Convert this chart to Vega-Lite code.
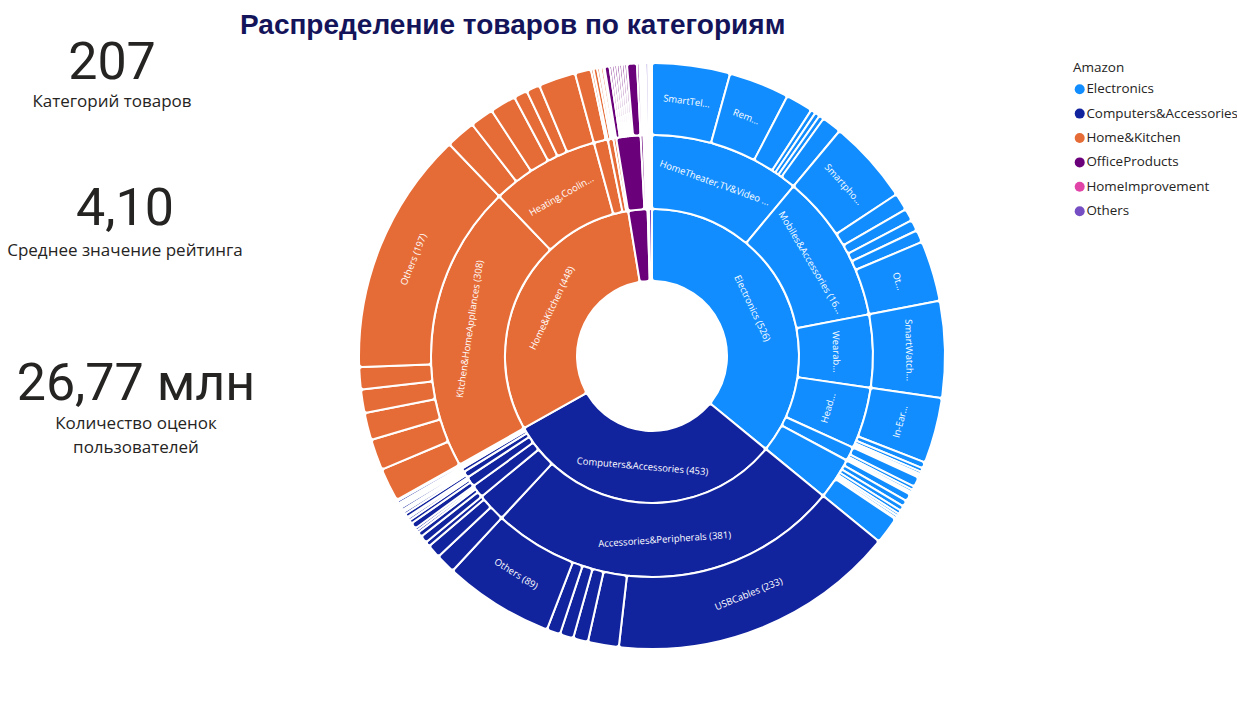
{
  "$schema": "https://vega.github.io/schema/vega-lite/v6.json",
  "padding": {"left": 0, "top": 11, "right": 0, "bottom": 16},
  "background": "white",
  "title": {"text": "Распределение товаров по категориям", "anchor": "start", "dx": 240, "dy": 9, "font": "Liberation Sans", "fontSize": 28, "fontWeight": "bold", "color": "#14145a", "offset": 6},
  "config": {"view": {"stroke": null}},
  "datasets": {
    "r1": [
      {"k":1,"top":"Electronics","name":"Electronics","n":526,"lbl":"Electronics (526)"},
      {"k":2,"top":"Computers&Accessories","name":"Computers&Accessories","n":453,"lbl":"Computers&Accessories (453)"},
      {"k":3,"top":"Home&Kitchen","name":"Home&Kitchen","n":448,"lbl":"Home&Kitchen (448)"},
      {"k":4,"top":"OfficeProducts","name":"OfficeProducts","n":31,"lbl":""},
      {"k":5,"top":"HomeImprovement","name":"HomeImprovement","n":2,"lbl":""},
      {"k":6,"top":"Others","name":"Others","n":5,"lbl":""}
    ],
    "r2": [
      {"k":1,"top":"Electronics","name":"HomeTheater,TV&Video","n":162,"lbl":"HomeTheater,TV&Video ..."},
      {"k":2,"top":"Electronics","name":"Mobiles&Accessories","n":160,"lbl":"Mobiles&Accessories (16..."},
      {"k":3,"top":"Electronics","name":"WearableTechnology","n":78,"lbl":"Wearab..."},
      {"k":4,"top":"Electronics","name":"Headphones,Earbuds&Accessories","n":66,"lbl":"Head..."},
      {"k":5,"top":"Electronics","name":"GeneralPurposeBatteries&BatteryChargers","n":15,"lbl":""},
      {"k":6,"top":"Electronics","name":"Accessories","n":45,"lbl":""},
      {"k":7,"top":"Computers&Accessories","name":"Accessories&Peripherals","n":381,"lbl":"Accessories&Peripherals (381)"},
      {"k":8,"top":"Computers&Accessories","name":"NetworkingDevices","n":31,"lbl":""},
      {"k":9,"top":"Computers&Accessories","name":"ExternalDevices&DataStorage","n":14,"lbl":""},
      {"k":10,"top":"Computers&Accessories","name":"Printers,Inks&Accessories","n":11,"lbl":""},
      {"k":11,"top":"Computers&Accessories","name":"Components","n":7,"lbl":""},
      {"k":12,"top":"Computers&Accessories","name":"Monitors","n":4,"lbl":""},
      {"k":13,"top":"Computers&Accessories","name":"Laptops","n":2,"lbl":""},
      {"k":14,"top":"Computers&Accessories","name":"Tablets","n":2,"lbl":""},
      {"k":15,"top":"Computers&Accessories","name":"Audio","n":1,"lbl":""},
      {"k":16,"top":"Home&Kitchen","name":"Kitchen&HomeAppliances","n":308,"lbl":"Kitchen&HomeAppliances (308)"},
      {"k":17,"top":"Home&Kitchen","name":"Heating,Cooling&AirQuality","n":116,"lbl":"Heating,Coolin..."},
      {"k":18,"top":"Home&Kitchen","name":"Kitchen&Dining","n":15,"lbl":""},
      {"k":19,"top":"Home&Kitchen","name":"HomeStorage&Organization","n":6,"lbl":""},
      {"k":20,"top":"Home&Kitchen","name":"CraftMaterials","n":3,"lbl":""},
      {"k":21,"top":"OfficeProducts","name":"OfficePaperProducts","n":26,"lbl":""},
      {"k":22,"top":"OfficeProducts","name":"OfficeElectronics","n":3,"lbl":""},
      {"k":23,"top":"OfficeProducts","name":"Stationery","n":2,"lbl":""},
      {"k":24,"top":"HomeImprovement","name":"Cleaning&Supplies","n":1,"lbl":""},
      {"k":25,"top":"HomeImprovement","name":"Electrical","n":1,"lbl":""},
      {"k":26,"top":"Others","name":"MusicalInstruments","n":2,"lbl":""},
      {"k":27,"top":"Others","name":"Toys&Games","n":1,"lbl":""},
      {"k":28,"top":"Others","name":"Car&Motorbike","n":1,"lbl":""},
      {"k":29,"top":"Others","name":"Health&PersonalCare","n":1,"lbl":""}
    ],
    "r3": [
      {"k":1,"top":"Electronics","name":"SmartTelevisions","n":63,"lbl":"SmartTel..."},
      {"k":2,"top":"Electronics","name":"RemoteControls","n":49,"lbl":"Rem..."},
      {"k":3,"top":"Electronics","name":"HDMICables","n":22,"lbl":""},
      {"k":4,"top":"Electronics","name":"StandardTelevisions","n":4,"lbl":""},
      {"k":5,"top":"Electronics","name":"SpeakerCables","n":4,"lbl":""},
      {"k":6,"top":"Electronics","name":"TVWallMounts","n":4,"lbl":""},
      {"k":7,"top":"Electronics","name":"StreamingClients","n":16,"lbl":""},
      {"k":8,"top":"Electronics","name":"Smartphones","n":68,"lbl":"Smartpho..."},
      {"k":9,"top":"Electronics","name":"BasicMobiles","n":14,"lbl":""},
      {"k":10,"top":"Electronics","name":"Cases&Covers","n":10,"lbl":""},
      {"k":11,"top":"Electronics","name":"ScreenProtectors","n":9,"lbl":""},
      {"k":12,"top":"Electronics","name":"Chargers","n":10,"lbl":""},
      {"k":13,"top":"Electronics","name":"Others","n":49,"lbl":"Ot..."},
      {"k":14,"top":"Electronics","name":"SmartWatches","n":78,"lbl":"SmartWatch..."},
      {"k":15,"top":"Electronics","name":"In-Ear","n":53,"lbl":"In-Ear..."},
      {"k":16,"top":"Electronics","name":"On-Ear","n":5,"lbl":""},
      {"k":17,"top":"Electronics","name":"Over-Ear","n":3,"lbl":""},
      {"k":18,"top":"Electronics","name":"EarPads","n":2,"lbl":""},
      {"k":19,"top":"Electronics","name":"HeadphoneAdapters","n":1,"lbl":""},
      {"k":20,"top":"Electronics","name":"HeadphoneStands","n":1,"lbl":""},
      {"k":21,"top":"Electronics","name":"EarbudCases","n":1,"lbl":""},
      {"k":22,"top":"Electronics","name":"RechargeableBatteries","n":8,"lbl":""},
      {"k":23,"top":"Electronics","name":"DisposableBatteries","n":3,"lbl":""},
      {"k":24,"top":"Electronics","name":"BatteryChargers","n":2,"lbl":""},
      {"k":25,"top":"Electronics","name":"AA","n":1,"lbl":""},
      {"k":26,"top":"Electronics","name":"AAA","n":1,"lbl":""},
      {"k":27,"top":"Electronics","name":"PowerBanks","n":6,"lbl":""},
      {"k":28,"top":"Electronics","name":"WallChargers","n":5,"lbl":""},
      {"k":29,"top":"Electronics","name":"CarChargers","n":4,"lbl":""},
      {"k":30,"top":"Electronics","name":"USBHubs","n":3,"lbl":""},
      {"k":31,"top":"Electronics","name":"Adapters","n":2,"lbl":""},
      {"k":32,"top":"Electronics","name":"Stands","n":2,"lbl":""},
      {"k":33,"top":"Electronics","name":"Holders","n":1,"lbl":""},
      {"k":34,"top":"Electronics","name":"Cables","n":22,"lbl":""},
      {"k":35,"top":"Computers&Accessories","name":"USBCables","n":233,"lbl":"USBCables (233)"},
      {"k":36,"top":"Computers&Accessories","name":"Mice","n":25,"lbl":""},
      {"k":37,"top":"Computers&Accessories","name":"Keyboards","n":12,"lbl":""},
      {"k":38,"top":"Computers&Accessories","name":"LaptopAccessories","n":11,"lbl":""},
      {"k":39,"top":"Computers&Accessories","name":"Webcams","n":11,"lbl":""},
      {"k":40,"top":"Computers&Accessories","name":"Others","n":89,"lbl":"Others (89)"},
      {"k":41,"top":"Computers&Accessories","name":"Routers","n":16,"lbl":""},
      {"k":42,"top":"Computers&Accessories","name":"Repeaters&Extenders","n":11,"lbl":""},
      {"k":43,"top":"Computers&Accessories","name":"NetworkAdapters","n":4,"lbl":""},
      {"k":44,"top":"Computers&Accessories","name":"PenDrives","n":6,"lbl":""},
      {"k":45,"top":"Computers&Accessories","name":"MemoryCards","n":4,"lbl":""},
      {"k":46,"top":"Computers&Accessories","name":"ExternalHardDisks","n":2,"lbl":""},
      {"k":47,"top":"Computers&Accessories","name":"ExternalSSDs","n":2,"lbl":""},
      {"k":48,"top":"Computers&Accessories","name":"InkCartridges","n":5,"lbl":""},
      {"k":49,"top":"Computers&Accessories","name":"Printers","n":3,"lbl":""},
      {"k":50,"top":"Computers&Accessories","name":"Toners","n":2,"lbl":""},
      {"k":51,"top":"Computers&Accessories","name":"Scanners","n":1,"lbl":""},
      {"k":52,"top":"Computers&Accessories","name":"InternalSSDs","n":3,"lbl":""},
      {"k":53,"top":"Computers&Accessories","name":"RAM","n":2,"lbl":""},
      {"k":54,"top":"Computers&Accessories","name":"GraphicsCards","n":1,"lbl":""},
      {"k":55,"top":"Computers&Accessories","name":"CaseFans","n":1,"lbl":""},
      {"k":56,"top":"Computers&Accessories","name":"LEDMonitors","n":2,"lbl":""},
      {"k":57,"top":"Computers&Accessories","name":"MonitorArms","n":1,"lbl":""},
      {"k":58,"top":"Computers&Accessories","name":"MonitorStands","n":1,"lbl":""},
      {"k":59,"top":"Computers&Accessories","name":"TraditionalLaptops","n":1,"lbl":""},
      {"k":60,"top":"Computers&Accessories","name":"GamingLaptops","n":1,"lbl":""},
      {"k":61,"top":"Computers&Accessories","name":"AndroidTablets","n":2,"lbl":""},
      {"k":62,"top":"Computers&Accessories","name":"Speakers","n":1,"lbl":""},
      {"k":63,"top":"Home&Kitchen","name":"MixerGrinders","n":27,"lbl":""},
      {"k":64,"top":"Home&Kitchen","name":"ElectricKettles","n":25,"lbl":""},
      {"k":65,"top":"Home&Kitchen","name":"HandBlenders","n":22,"lbl":""},
      {"k":66,"top":"Home&Kitchen","name":"SandwichMakers","n":19,"lbl":""},
      {"k":67,"top":"Home&Kitchen","name":"Irons","n":18,"lbl":""},
      {"k":68,"top":"Home&Kitchen","name":"Others","n":197,"lbl":"Others (197)"},
      {"k":69,"top":"Home&Kitchen","name":"RoomHeaters","n":24,"lbl":""},
      {"k":70,"top":"Home&Kitchen","name":"InstantWaterHeaters","n":19,"lbl":""},
      {"k":71,"top":"Home&Kitchen","name":"StorageWaterHeaters","n":21,"lbl":""},
      {"k":72,"top":"Home&Kitchen","name":"AirPurifiers","n":11,"lbl":""},
      {"k":73,"top":"Home&Kitchen","name":"Humidifiers","n":11,"lbl":""},
      {"k":74,"top":"Home&Kitchen","name":"Fans","n":30,"lbl":""},
      {"k":75,"top":"Home&Kitchen","name":"KitchenTools","n":13,"lbl":""},
      {"k":76,"top":"Home&Kitchen","name":"Cookware","n":2,"lbl":""},
      {"k":77,"top":"Home&Kitchen","name":"Racks","n":3,"lbl":""},
      {"k":78,"top":"Home&Kitchen","name":"Baskets","n":2,"lbl":""},
      {"k":79,"top":"Home&Kitchen","name":"Hooks","n":1,"lbl":""},
      {"k":80,"top":"Home&Kitchen","name":"Paints","n":2,"lbl":""},
      {"k":81,"top":"Home&Kitchen","name":"Brushes","n":1,"lbl":""},
      {"k":82,"top":"OfficeProducts","name":"Notebooks","n":4,"lbl":""},
      {"k":83,"top":"OfficeProducts","name":"Paper","n":2,"lbl":""},
      {"k":84,"top":"OfficeProducts","name":"Envelopes","n":2,"lbl":""},
      {"k":85,"top":"OfficeProducts","name":"Labels","n":2,"lbl":""},
      {"k":86,"top":"OfficeProducts","name":"StickyNotes","n":2,"lbl":""},
      {"k":87,"top":"OfficeProducts","name":"Folders","n":2,"lbl":""},
      {"k":88,"top":"OfficeProducts","name":"Binders","n":2,"lbl":""},
      {"k":89,"top":"OfficeProducts","name":"Cards","n":2,"lbl":""},
      {"k":90,"top":"OfficeProducts","name":"Diaries","n":8,"lbl":""},
      {"k":91,"top":"OfficeProducts","name":"Calculators","n":2,"lbl":""},
      {"k":92,"top":"OfficeProducts","name":"LabelMakers","n":1,"lbl":""},
      {"k":93,"top":"OfficeProducts","name":"Pens","n":1,"lbl":""},
      {"k":94,"top":"OfficeProducts","name":"Markers","n":1,"lbl":""},
      {"k":95,"top":"HomeImprovement","name":"CleaningSupplies","n":1,"lbl":""},
      {"k":96,"top":"HomeImprovement","name":"ElectricalWires","n":1,"lbl":""},
      {"k":97,"top":"Others","name":"CondenserMicrophones","n":2,"lbl":""},
      {"k":98,"top":"Others","name":"DrawingKits","n":1,"lbl":""},
      {"k":99,"top":"Others","name":"CarAccessories","n":1,"lbl":""},
      {"k":100,"top":"Others","name":"MassageTools","n":1,"lbl":""}
    ]
  },
  "spacing": 80,
  "resolve": {"scale": {"color": "independent"}},
  "hconcat": [
    {
      "spacing": 0,
      "vconcat": [
        {
          "width": 224, "height": 81,
          "data": {"values": [{"v": "207", "t": "Категорий товаров"}]},
          "layer": [
            {"mark": {"type": "text", "font": "Roboto", "fontSize": 52, "color": "#252423", "baseline": "middle", "dy": -30}, "encoding": {"text": {"field": "v", "type": "nominal"}}},
            {"mark": {"type": "text", "font": "Open Sans", "fontSize": 17, "color": "#252423", "baseline": "middle", "dy": 9}, "encoding": {"text": {"field": "t", "type": "nominal"}}}
          ]
        },
        {
          "width": 250, "height": 215,
          "data": {"values": [{"v": "4,10", "t": "Среднее значение рейтинга"}]},
          "layer": [
            {"mark": {"type": "text", "font": "Roboto", "fontSize": 52, "color": "#252423", "baseline": "middle", "dy": -32}, "encoding": {"text": {"field": "v", "type": "nominal"}}},
            {"mark": {"type": "text", "font": "Open Sans", "fontSize": 17, "color": "#252423", "baseline": "middle", "dy": 10}, "encoding": {"text": {"field": "t", "type": "nominal"}}}
          ]
        },
        {
          "width": 272, "height": 148,
          "data": {"values": [{"v": "26,77 млн", "t": ["Количество оценок", "пользователей"]}]},
          "layer": [
            {"mark": {"type": "text", "font": "Roboto", "fontSize": 52, "color": "#252423", "baseline": "middle", "dy": -38}, "encoding": {"text": {"field": "v", "type": "nominal"}}},
            {"mark": {"type": "text", "font": "Open Sans", "fontSize": 17, "color": "#252423", "baseline": "middle", "dy": 2, "lineHeight": 24}, "encoding": {"text": {"field": "t", "type": "nominal"}}}
          ]
        }
      ]
    },
    {
      "width": 600, "height": 608,
      "layer": [
        {
          "data": {"name": "r1"},
          "layer": [
            {"mark": {"type": "arc", "innerRadius": 75, "outerRadius": 147, "stroke": "white", "strokeWidth": 2, "cornerRadius": 3},
             "encoding": {
               "theta": {"field": "n", "type": "quantitative", "stack": true},
               "order": {"field": "k", "type": "quantitative"},
               "color": {"field": "top", "type": "nominal",
                 "scale": {"domain": ["Electronics","Computers&Accessories","Home&Kitchen","OfficeProducts","HomeImprovement","Others"], "range": ["#118DFF","#12239E","#E66C37","#6B007B","#E044A7","#744EC2"]},
                 "legend": {"title": "Amazon", "orient": "none", "legendX": 721, "legendY": 9, "symbolType": "circle", "symbolSize": 100, "symbolStrokeWidth": 0, "labelFont": "Open Sans", "labelFontSize": 13.4, "labelColor": "#252423", "labelLimit": 300, "labelOffset": 0, "titleFont": "Open Sans", "titleFontSize": 13.5, "titleFontWeight": "normal", "titleColor": "#252423", "rowPadding": 9.4, "titlePadding": 8}}
             }},
            {"mark": {"type": "text", "radius": 111, "color": "white", "font": "Open Sans", "fontSize": 9.5, "align": "center", "baseline": "middle",
                      "angle": {"expr": "(180*(datum.n_start+datum.n_end)/1465) < 90 ? (180*(datum.n_start+datum.n_end)/1465) : ((180*(datum.n_start+datum.n_end)/1465) < 270 ? (180*(datum.n_start+datum.n_end)/1465) - 180 : (180*(datum.n_start+datum.n_end)/1465) - 360)"}},
             "encoding": {
               "theta": {"field": "n", "type": "quantitative", "stack": true},
               "order": {"field": "k", "type": "quantitative"},
               "text": {"field": "lbl", "type": "nominal"}
             }}
          ]
        },
        {
          "data": {"name": "r2"},
          "layer": [
            {"mark": {"type": "arc", "innerRadius": 147, "outerRadius": 221, "stroke": "white", "strokeWidth": 2, "cornerRadius": 3},
             "encoding": {
               "theta": {"field": "n", "type": "quantitative", "stack": true},
               "order": {"field": "k", "type": "quantitative"},
               "color": {"field": "top", "type": "nominal",
                 "scale": {"domain": ["Electronics","Computers&Accessories","Home&Kitchen","OfficeProducts","HomeImprovement","Others"], "range": ["#118DFF","#12239E","#E66C37","#6B007B","#E044A7","#744EC2"]},
                 "legend": {"title": "Amazon", "orient": "none", "legendX": 721, "legendY": 9, "symbolType": "circle", "symbolSize": 100, "symbolStrokeWidth": 0, "labelFont": "Open Sans", "labelFontSize": 13.4, "labelColor": "#252423", "labelLimit": 300, "labelOffset": 0, "titleFont": "Open Sans", "titleFontSize": 13.5, "titleFontWeight": "normal", "titleColor": "#252423", "rowPadding": 9.4, "titlePadding": 8}}
             }},
            {"mark": {"type": "text", "radius": 184, "color": "white", "font": "Open Sans", "fontSize": 9.5, "align": "center", "baseline": "middle",
                      "angle": {"expr": "(180*(datum.n_start+datum.n_end)/1465) < 90 ? (180*(datum.n_start+datum.n_end)/1465) : ((180*(datum.n_start+datum.n_end)/1465) < 270 ? (180*(datum.n_start+datum.n_end)/1465) - 180 : (180*(datum.n_start+datum.n_end)/1465) - 360)"}},
             "encoding": {
               "theta": {"field": "n", "type": "quantitative", "stack": true},
               "order": {"field": "k", "type": "quantitative"},
               "text": {"field": "lbl", "type": "nominal"}
             }}
          ]
        },
        {
          "data": {"name": "r3"},
          "layer": [
            {"mark": {"type": "arc", "innerRadius": 221, "outerRadius": 293, "stroke": "white", "strokeWidth": 2, "cornerRadius": 3},
             "encoding": {
               "theta": {"field": "n", "type": "quantitative", "stack": true},
               "order": {"field": "k", "type": "quantitative"},
               "color": {"field": "top", "type": "nominal",
                 "scale": {"domain": ["Electronics","Computers&Accessories","Home&Kitchen","OfficeProducts","HomeImprovement","Others"], "range": ["#118DFF","#12239E","#E66C37","#6B007B","#E044A7","#744EC2"]},
                 "legend": {"title": "Amazon", "orient": "none", "legendX": 721, "legendY": 9, "symbolType": "circle", "symbolSize": 100, "symbolStrokeWidth": 0, "labelFont": "Open Sans", "labelFontSize": 13.4, "labelColor": "#252423", "labelLimit": 300, "labelOffset": 0, "titleFont": "Open Sans", "titleFontSize": 13.5, "titleFontWeight": "normal", "titleColor": "#252423", "rowPadding": 9.4, "titlePadding": 8}}
             }},
            {"mark": {"type": "text", "radius": 257, "color": "white", "font": "Open Sans", "fontSize": 9.5, "align": "center", "baseline": "middle",
                      "angle": {"expr": "(180*(datum.n_start+datum.n_end)/1465) < 90 ? (180*(datum.n_start+datum.n_end)/1465) : ((180*(datum.n_start+datum.n_end)/1465) < 270 ? (180*(datum.n_start+datum.n_end)/1465) - 180 : (180*(datum.n_start+datum.n_end)/1465) - 360)"}},
             "encoding": {
               "theta": {"field": "n", "type": "quantitative", "stack": true},
               "order": {"field": "k", "type": "quantitative"},
               "text": {"field": "lbl", "type": "nominal"}
             }}
          ]
        }
      ]
    }
  ]
}
